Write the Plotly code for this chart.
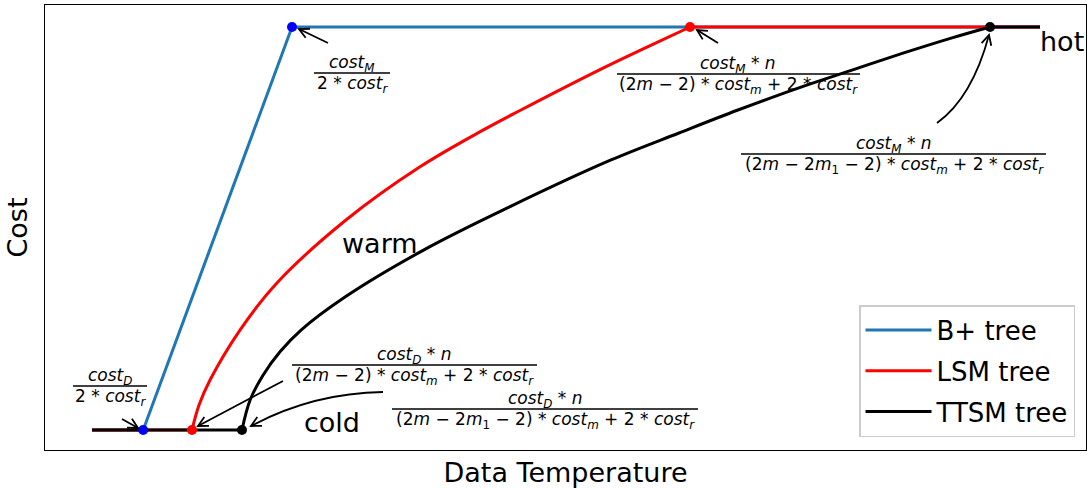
import math
import plotly.graph_objects as go

# ---------------- data ----------------
bplus_x = [0, 5.4, 21.1, 100]
bplus_y = [0, 0, 100, 100]

lsm_x = [0, 10.55, 11.29, 12.45, 15.61, 19.51, 26.79, 34.60, 41.24, 45.25, 53.48, 58.54, 63.08, 100]
lsm_y = [0, 0, 6.2, 12.4, 24.8, 36.5, 52.1, 65.3, 74.4, 79.4, 89.3, 95.0, 100, 100]

ttsm_x = [0, 15.82, 16.67, 18.04, 19.83, 22.05, 26.69, 35.02, 43.99, 54.75, 61.92, 68.14,
          74.79, 80.17, 85.55, 90.72, 94.73, 100]
ttsm_y = [0, 0, 7.4, 13.6, 19.4, 24.8, 33.0, 44.7, 55.3, 67.0, 73.7, 79.4,
          85.1, 89.3, 93.5, 97.3, 100, 100]

# knee points (cold / hot thresholds)
bplus_pts_x = [5.4, 21.1]
lsm_pts_x = [10.55, 63.08]
ttsm_pts_x = [15.82, 94.73]
pts_y = [0, 100]

series_names = ["B+ tree", "LSM tree", "TTSM tree"]

# ---------------- layout constants ----------------
W, H = 1087, 489
ML, MR, MT, MB = 45, 1, 5, 39
X0PX, X100PX = 92, 1040      # pixel of x=0 and x=100
Y0PX, Y100PX = 430, 27       # pixel of y=0 and y=100
sx = (X100PX - X0PX) / 100.0
sy = (Y0PX - Y100PX) / 100.0
xr = [-(X0PX - ML) / sx, 100 + ((W - MR) - X100PX) / sx]
yr = [-((H - MB) - Y0PX) / sy, 100 + (Y100PX - MT) / sy]


def X(px):
    return (px - X0PX) / sx


def Y(py):
    return (Y0PX - py) / sy


FONT = "DejaVu Sans"
BIG = 27
fig = go.Figure()

colors = ["#1f77b4", "#ff0000", "#000000"]
dot_colors = ["#0000ff", "#ff0000", "#000000"]
lines = [(bplus_x, bplus_y), (lsm_x, lsm_y), (ttsm_x, ttsm_y)]
for i, (xs, ys) in enumerate(lines):
    n = len(xs)
    # flat cold part, rising part (smooth), flat hot part
    segs = [(0, 2, "linear"), (1, n - 1, "spline" if n > 4 else "linear"), (n - 2, n, "linear")]
    for k, (a, b, shp) in enumerate(segs):
        fig.add_trace(go.Scatter(x=xs[a:b], y=ys[a:b], mode="lines", name=series_names[i],
                                 legendgroup=series_names[i], showlegend=(k == 1),
                                 line=dict(color=colors[i], width=3, shape=shp,
                                           smoothing=1.0 if shp == "spline" else None)))
for i, px_ in enumerate([bplus_pts_x, lsm_pts_x, ttsm_pts_x]):
    fig.add_trace(go.Scatter(x=px_, y=pts_y, mode="markers", showlegend=False,
                             marker=dict(color=dot_colors[i], size=10, line=dict(width=0))))

annotations = []
shapes = []


def italic(s):
    return "<i>" + s + "</i>"


def cost(sub):
    return italic("cost") + "<sub>" + sub + "</sub>"


MINUS = "\u2212"
AST = " * "
den_a = "(2" + italic("m") + " " + MINUS + " 2)" + AST + cost(italic("m")) + " + 2" + AST + cost(italic("r"))
den_b = ("(2" + italic("m") + " " + MINUS + " 2" + italic("m") + "<sub>1</sub> " + MINUS + " 2)" + AST
         + cost(italic("m")) + " + 2" + AST + cost(italic("r")))
den_c = "2" + AST + cost(italic("r"))

FS = 17
# fractions: (numerator, denominator, center x px, bar y px, bar x0 px, bar x1 px)
fractions = [
    (cost(italic("D")), den_c, 110, 386, 73, 147),
    (cost(italic("M")), den_c, 352, 73, 314, 390),
    (cost(italic("M")) + AST + italic("n"), den_a, 738, 74, 617, 860),
    (cost(italic("M")) + AST + italic("n"), den_b, 894, 154, 741, 1046),
    (cost(italic("D")) + AST + italic("n"), den_a, 414, 365, 292, 537),
    (cost(italic("D")) + AST + italic("n"), den_b, 545, 409, 392, 698),
]
for num, den, cx, by, bx0, bx1 in fractions:
    annotations.append(dict(x=X(cx), y=Y(by + 4), text=num, showarrow=False,
                            xanchor="center", yanchor="bottom",
                            font=dict(family=FONT, size=FS, color="black")))
    annotations.append(dict(x=X(cx), y=Y(by - 2), text=den, showarrow=False,
                            xanchor="center", yanchor="top",
                            font=dict(family=FONT, size=FS, color="black")))
    shapes.append(dict(type="line", x0=X(bx0), x1=X(bx1), y0=Y(by), y1=Y(by),
                       line=dict(color="black", width=1.5)))

# arrows: (tail px, tip px, control px or None)
arrows = [
    ((122, 419), (138, 428), None),
    ((328, 43), (299, 29), None),
    ((718, 43), (697, 30), None),
    ((937, 123), (989, 35), (972, 98)),
    ((283, 381), (198, 426), None),
    ((383, 392), (251, 426), (313, 393)),
]
for tail, tip, ctrl in arrows:
    if ctrl is None:
        path = f"M {X(tail[0])},{Y(tail[1])} L {X(tip[0])},{Y(tip[1])}"
        dx, dy = tip[0] - tail[0], tip[1] - tail[1]
    else:
        path = (f"M {X(tail[0])},{Y(tail[1])} Q {X(ctrl[0])},{Y(ctrl[1])} "
                f"{X(tip[0])},{Y(tip[1])}")
        dx, dy = tip[0] - ctrl[0], tip[1] - ctrl[1]
    shapes.append(dict(type="path", path=path, line=dict(color="black", width=1.8)))
    ang = math.atan2(dy, dx)
    L, a = 11, math.radians(27)
    w1 = (tip[0] - L * math.cos(ang - a), tip[1] - L * math.sin(ang - a))
    w2 = (tip[0] - L * math.cos(ang + a), tip[1] - L * math.sin(ang + a))
    hp = f"M {X(w1[0])},{Y(w1[1])} L {X(tip[0])},{Y(tip[1])} L {X(w2[0])},{Y(w2[1])}"
    shapes.append(dict(type="path", path=hp, line=dict(color="black", width=1.8)))

# region labels
for txt, cx, cy in [("hot", 1062, 41), ("warm", 380, 243), ("cold", 332, 422)]:
    annotations.append(dict(x=X(cx), y=Y(cy), text=txt, showarrow=False,
                            xanchor="center", yanchor="middle",
                            font=dict(family=FONT, size=BIG, color="black")))

fig.update_layout(
    width=W, height=H,
    margin=dict(l=ML, r=MR, t=MT, b=MB),
    paper_bgcolor="white", plot_bgcolor="white",
    font=dict(family=FONT, color="black"),
    xaxis=dict(range=xr, showgrid=False, zeroline=False, showticklabels=False,
               ticks="", showline=True, mirror=True, linecolor="black", linewidth=1.2,
               title=dict(text="Data Temperature", font=dict(family=FONT, size=BIG), standoff=12)),
    yaxis=dict(range=yr, showgrid=False, zeroline=False, showticklabels=False,
               ticks="", showline=True, mirror=True, linecolor="black", linewidth=1.2,
               title=dict(text="Cost", font=dict(family=FONT, size=BIG), standoff=8)),
    legend=dict(x=(1075 - ML) / (W - ML - MR), y=(H - MB - 437) / (H - MT - MB),
                xanchor="right", yanchor="bottom",
                bgcolor="rgba(255,255,255,0.8)", bordercolor="#cccccc", borderwidth=1.5,
                font=dict(family=FONT, size=26), tracegroupgap=4, itemwidth=66),
    annotations=annotations,
    shapes=shapes,
    showlegend=True,
)

fig.write_html("out.html")
